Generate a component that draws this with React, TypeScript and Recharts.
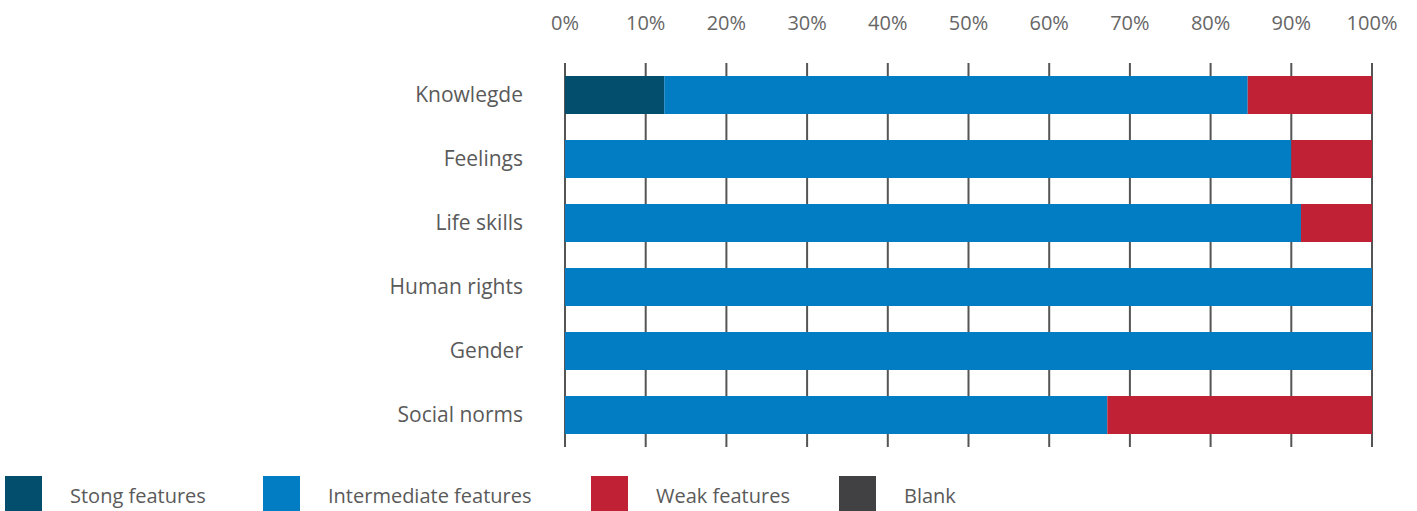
import { BarChart, Bar, XAxis, YAxis, CartesianGrid } from "recharts";

const categories = ["Knowlegde", "Feelings", "Life skills", "Human rights", "Gender", "Social norms"];
const strong = [12.3, 0, 0, 0, 0, 0];
const intermediate = [72.3, 90.0, 91.2, 100, 100, 67.2];
const weak = [15.4, 10.0, 8.8, 0, 0, 32.8];
const blank = [0, 0, 0, 0, 0, 0];
const xTicks = [0, 10, 20, 30, 40, 50, 60, 70, 80, 90, 100];

const series = [
  { key: "strong", name: "Stong features", color: "#044e6d" },
  { key: "intermediate", name: "Intermediate features", color: "#027cc2" },
  { key: "weak", name: "Weak features", color: "#c12134" },
  { key: "blank", name: "Blank", color: "#414143" },
];

const data = categories.map((name, i) => ({
  name,
  strong: strong[i],
  intermediate: intermediate[i],
  weak: weak[i],
  blank: blank[i],
}));

const FONT = "'Open Sans', 'Noto Sans', sans-serif";
const legendWidths = [258, 328, 248, 200];

function LegendBox() {
  return (
    <div
      style={{
        position: "absolute",
        left: 5,
        top: 476,
        height: 35,
        display: "flex",
        alignItems: "flex-start",
        fontFamily: FONT,
        fontSize: 20,
        color: "#5a5a5a",
      }}
    >
      {series.map((s, i) => (
        <div key={s.key} style={{ width: legendWidths[i], display: "flex", alignItems: "flex-start" }}>
          <div style={{ width: 37, height: 35, background: s.color, flexShrink: 0 }} />
          <span style={{ marginLeft: 28, whiteSpace: "nowrap", lineHeight: "40px" }}>{s.name}</span>
        </div>
      ))}
    </div>
  );
}

export default function App() {
  return (
    <div style={{ position: "fixed", top: 0, left: 0, width: 1417, height: 511, background: "#fff", overflow: "hidden" }}>
      <BarChart
        width={1417}
        height={511}
        data={data}
        layout="vertical"
        margin={{ top: 0, right: 45, bottom: 64, left: 0 }}
        barSize={38}
      >
        <CartesianGrid horizontal={false} stroke="#555" strokeWidth={2} />
        <XAxis
          type="number"
          orientation="top"
          domain={[0, 100]}
          ticks={xTicks}
          tickFormatter={(v) => `${v}%`}
          axisLine={false}
          tickLine={false}
          tickSize={0}
          tickMargin={33}
          height={63}
          interval={0}
          tick={{ fill: "#666", fontSize: 20, fontFamily: FONT }}
        />
        <YAxis
          type="category"
          dataKey="name"
          width={565}
          axisLine={false}
          tickLine={false}
          tickSize={0}
          tickMargin={42}
          tick={{ fill: "#5a5a5a", fontSize: 21, fontFamily: FONT }}
        />
        {series.map((s) => (
          <Bar
            key={s.key}
            dataKey={s.key}
            name={s.name}
            stackId="a"
            fill={s.color}
            isAnimationActive={false}
          />
        ))}
      </BarChart>
      <LegendBox />
    </div>
  );
}
